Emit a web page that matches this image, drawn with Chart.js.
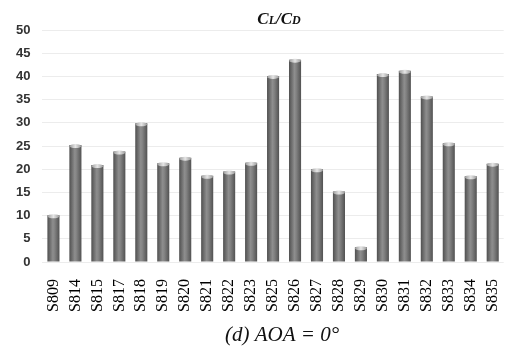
<!DOCTYPE html>
<html>
<head>
<meta charset="utf-8">
<script src="https://cdn.jsdelivr.net/npm/chart.js@4/dist/chart.umd.min.js"></script>
<style>
  html, body { margin: 0; padding: 0; background: #fff; }
  #wrap { width: 521px; height: 349px; }
</style>
</head>
<body>
<div id="wrap"><canvas id="chart" width="521" height="349"></canvas></div>
<script>
// airfoil names and lift/drag ratio at AOA = 0
const airfoils = ['S809', 'S814', 'S815', 'S817', 'S818', 'S819', 'S820', 'S821', 'S822', 'S823', 'S825',
                  'S826', 'S827', 'S828', 'S829', 'S830', 'S831', 'S832', 'S833', 'S834', 'S835'];
const liftDrag = [10.1, 25.2, 20.9, 23.8, 29.9, 21.3, 22.5, 18.6, 19.5, 21.4, 40.1,
                  43.6, 20.0, 15.2, 3.2, 40.5, 41.2, 35.7, 25.6, 18.5, 21.2];
const yTicks = [0, 5, 10, 15, 20, 25, 30, 35, 40, 45, 50];
const caption = '(d) AOA = 0°';

// cylinder look: dark edges, lighter middle
function barFill(context) {
    const chart = context.chart;
    const xs = chart.scales.x;
    if (!xs || !chart.chartArea || context.dataIndex === undefined) return '#6e6e6e';
    const cx = xs.getPixelForValue(context.dataIndex);
    if (!isFinite(cx)) return '#6e6e6e';
    const w = 12;
    const g = chart.ctx.createLinearGradient(cx - w / 2, 0, cx + w / 2, 0);
    g.addColorStop(0, '#505050');
    g.addColorStop(0.45, '#8e8e8e');
    g.addColorStop(0.6, '#828282');
    g.addColorStop(1, '#525252');
    return g;
}

// light rounded cap on each bar top
const capPlugin = {
    id: 'caps',
    afterDatasetsDraw(chart) {
        const ctx = chart.ctx;
        ctx.save();
        chart.getDatasetMeta(0).data.forEach(bar => {
            const hw = bar.width / 2;
            const g = ctx.createLinearGradient(bar.x - hw, 0, bar.x + hw, 0);
            g.addColorStop(0, '#9a9a9a');
            g.addColorStop(0.5, '#e6e6e6');
            g.addColorStop(1, '#9a9a9a');
            ctx.fillStyle = g;
            ctx.beginPath();
            ctx.ellipse(bar.x, bar.y + 1, hw, 2, 0, 0, Math.PI * 2);
            ctx.fill();
        });
        ctx.restore();
    }
};

// title with subscripts at the top, caption at the bottom
const textPlugin = {
    id: 'texts',
    afterDraw(chart) {
        const ctx = chart.ctx;
        ctx.save();
        ctx.fillStyle = '#111';
        ctx.textBaseline = 'alphabetic';
        const big = 'italic bold 17px "Liberation Serif"';
        const small = 'italic bold 12px "Liberation Serif"';
        const parts = [['C', big], ['L', small], ['/C', big], ['D', small]];
        let total = 0;
        parts.forEach(p => { ctx.font = p[1]; total += ctx.measureText(p[0]).width; });
        let x = 279 - total / 2;
        parts.forEach(p => {
            ctx.font = p[1];
            ctx.fillText(p[0], x, 24);
            x += ctx.measureText(p[0]).width;
        });

        ctx.font = 'italic 21px "Liberation Serif"';
        ctx.textAlign = 'center';
        ctx.fillText(caption, 282, 341);
        ctx.restore();
    }
};

new Chart(document.getElementById('chart'), {
    type: 'bar',
    data: {
        labels: airfoils,
        datasets: [{
            data: liftDrag,
            backgroundColor: barFill,
            borderWidth: 0,
            barPercentage: 0.55,
            categoryPercentage: 1.0
        }]
    },
    options: {
        responsive: false,
        animation: false,
        layout: { padding: { top: 30, right: 4, left: 4, bottom: 28 } },
        scales: {
            x: {
                grid: { display: false },
                border: { display: false },
                ticks: {
                    minRotation: 90,
                    maxRotation: 90,
                    autoSkip: false,
                    padding: 9,
                    color: '#000',
                    font: { family: 'Liberation Serif', size: 16 }
                }
            },
            y: {
                min: 0,
                max: 50,
                afterBuildTicks: axis => { axis.ticks = yTicks.map(v => ({ value: v })); },
                grid: { color: '#ececec', drawTicks: false },
                border: { display: false },
                ticks: {
                    padding: 12,
                    color: '#333',
                    font: { family: 'Liberation Sans', size: 13, weight: 'bold' }
                }
            }
        },
        plugins: {
            legend: { display: false },
            tooltip: { enabled: false },
            title: { display: false }
        }
    },
    plugins: [capPlugin, textPlugin]
});
</script>
</body>
</html>
